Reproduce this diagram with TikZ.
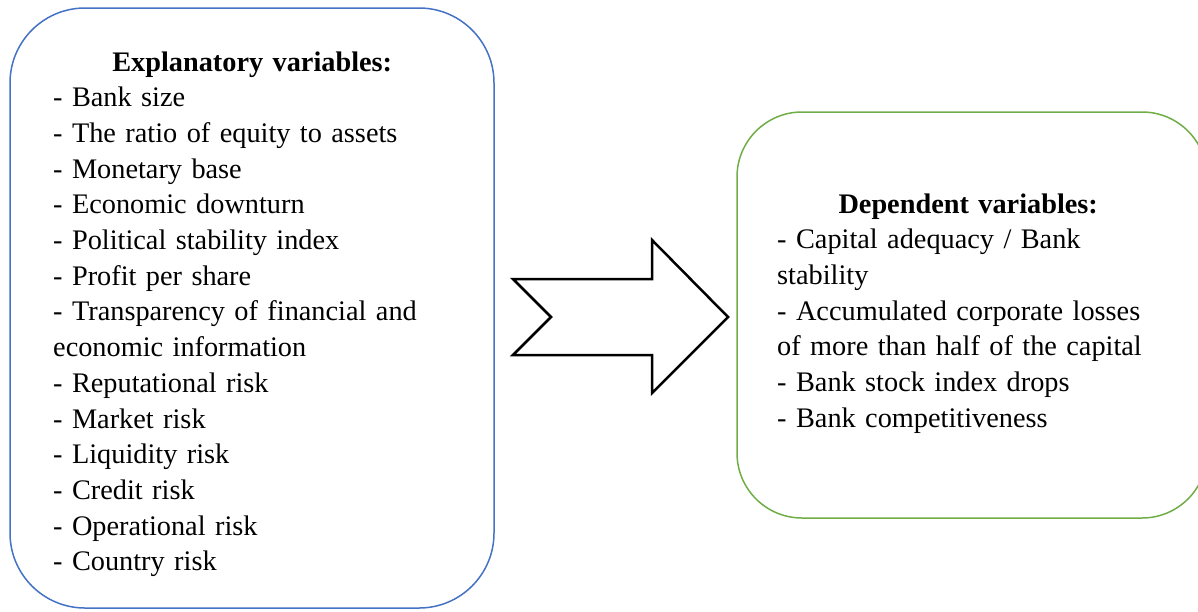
\documentclass[tikz,border=0pt]{standalone}
\usepackage{fontspec}
\setmainfont{Liberation Serif}
\usetikzlibrary{positioning}
\definecolor{boxblue}{RGB}{68,114,196}
\definecolor{boxgreen}{RGB}{112,173,71}

\begin{document}
\begin{tikzpicture}[x=1pt, y=-1pt, font=\fontsize{28.3}{35.7}\selectfont,
  box/.style={draw, line width=1.5pt, inner sep=0pt},
  list/.style={inner sep=0pt, align=left, anchor=base west}]
\useasboundingbox (0,0) rectangle (1198,611);
\node[box, draw=boxblue, rounded corners=75pt, minimum width=484pt, minimum height=600pt] (expl) at (252,308) {};
\node[box, draw=boxgreen, rounded corners=65pt, minimum width=470pt, minimum height=406pt] (dep) at (972,315) {};
\node[list, text width=398pt] (expltxt) at (53,71) {{\centering\bfseries Explanatory variables:\par}
- Bank size\\
- The ratio of equity to assets\\
- Monetary base\\
- Economic downturn\\
- Political stability index\\
- Profit per share\\
- Transparency of financial and\\
economic information\\
- Reputational risk\\
- Market risk\\
- Liquidity risk\\
- Credit risk\\
- Operational risk\\
- Country risk};
\node[list, text width=382pt] (deptxt) at (777,213) {{\centering\bfseries Dependent variables:\par}
- Capital adequacy / Bank\\
stability\\
- Accumulated corporate losses\\
of more than half of the capital\\
- Bank stock index drops\\
- Bank competitiveness};
% notched arrow between the two boxes
\draw[line width=2.5pt, line join=miter] (513,279) -- (652,279) -- (652,240) -- (728,317)
  -- (652,393) -- (652,355) -- (513,355) -- (551,317) -- cycle;
\end{tikzpicture}
\end{document}
